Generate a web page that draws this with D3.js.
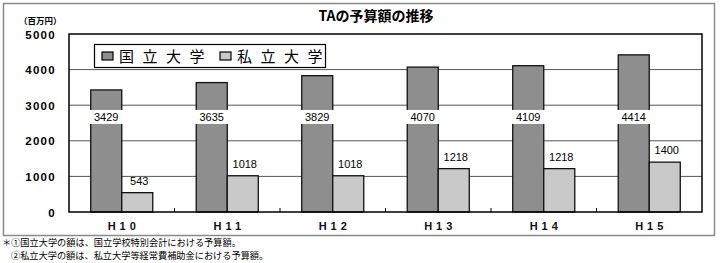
<!DOCTYPE html>
<html><head><meta charset="utf-8">
<script src="https://cdn.jsdelivr.net/npm/d3@7"></script>
<style>body{margin:0;background:#fff}svg{display:block}</style>
</head><body>
<svg id="c" width="720" height="263"></svg>
<script>
const categories = ["H10","H11","H12","H13","H14","H15"];
const seriesNames = ["国立大学","私立大学"];
const national = [3429,3635,3829,4070,4109,4414];
const privateU = [543,1018,1018,1218,1218,1400];
const yTicks = [0,1000,2000,3000,4000,5000];
const title = "TAの予算額の推移";
const unitLabel = "（百万円）";
const notes = ["＊①国立大学の額は、国立学校特別会計における予算額。","②私立大学の額は、私立大学等経常費補助金における予算額。"];

const svg = d3.select("#c");
const M = {l:69, r:702, t:34, b:212};
const jp = "'Noto Sans CJK JP', sans-serif";
const lat = "Arial, 'Liberation Sans', sans-serif";

// outer frame
svg.append("rect").attr("x",3.5).attr("y",3.5).attr("width",711).attr("height",232)
  .attr("fill","#fff").attr("stroke","#8a8a8a").attr("stroke-width",1.5);

const x = d3.scaleBand().domain(categories).range([M.l,M.r]).paddingInner(0.412).paddingOuter(0.206);
const xs = d3.scaleBand().domain(seriesNames).range([0,x.bandwidth()]);
const y = d3.scaleLinear().domain([0,5000]).range([M.b,M.t]);

// gridlines
svg.append("g").selectAll("line").data(yTicks.filter(d=>d>0&&d<5000)).join("line")
  .attr("x1",M.l).attr("x2",M.r).attr("y1",d=>y(d)).attr("y2",d=>y(d))
  .attr("stroke","#555").attr("stroke-width",1);

// bars
const data = categories.map((c,i)=>({c, vals:[{s:seriesNames[0],v:national[i]},{s:seriesNames[1],v:privateU[i]}]}));
const colors = {"国立大学":"#8e8e8e","私立大学":"#c9c9c9"};
const g = svg.append("g");
const grp = g.selectAll("g").data(data).join("g").attr("transform",d=>`translate(${x(d.c)},0)`);
grp.selectAll("rect").data(d=>d.vals).join("rect")
  .attr("x",d=>xs(d.s)).attr("width",xs.bandwidth())
  .attr("y",d=>y(d.v)).attr("height",d=>y(0)-y(d.v))
  .attr("fill",d=>colors[d.s]).attr("stroke","#111").attr("stroke-width",1.3);

// dark bar labels (fixed row with white background)
const labelV = 2670;
grp.append("rect").attr("x",xs(seriesNames[0])-2).attr("width",xs.bandwidth()+4)
  .attr("y",y(labelV)-7).attr("height",14).attr("fill","#fff");
grp.append("text").attr("x",xs(seriesNames[0])+xs.bandwidth()/2).attr("y",y(labelV)+4)
  .attr("text-anchor","middle").attr("font-family",lat).attr("font-size",11)
  .attr("fill","#000").text((d,i)=>d.vals[0].v);
// light bar labels
grp.append("text").attr("x",xs(seriesNames[1])+xs.bandwidth()/2+2).attr("y",d=>y(d.vals[1].v)-8)
  .attr("text-anchor","middle").attr("font-family",lat).attr("font-size",11)
  .attr("fill","#000").text(d=>d.vals[1].v);

// plot border
svg.append("rect").attr("x",M.l).attr("y",M.t).attr("width",M.r-M.l).attr("height",M.b-M.t)
  .attr("fill","none").attr("stroke","#000").attr("stroke-width",1.5);

// category boundary ticks (inside)
svg.append("g").selectAll("line").data(categories.slice(1)).join("line")
  .attr("x1",d=>x(d)-x.step()*x.paddingInner()/2).attr("x2",d=>x(d)-x.step()*x.paddingInner()/2)
  .attr("y1",M.b).attr("y2",M.b-4).attr("stroke","#000").attr("stroke-width",1);

// y labels
svg.append("g").selectAll("text").data(yTicks).join("text")
  .attr("x",56).attr("y",d=>y(d)+4.5).attr("text-anchor","end")
  .attr("font-family",lat).attr("font-weight","bold").attr("font-size",11.5)
  .attr("letter-spacing","1.3px").attr("fill","#000").text(d=>d);

// x labels
svg.append("g").selectAll("text").data(categories).join("text")
  .attr("x",d=>x(d)+x.bandwidth()/2+2).attr("y",230).attr("text-anchor","middle")
  .attr("font-family",lat).attr("font-weight","bold").attr("font-size",11)
  .attr("letter-spacing","4px").attr("fill","#111").text(d=>d);

// title
svg.append("text").attr("x",376).attr("y",21).attr("text-anchor","middle")
  .attr("font-family",jp).attr("font-weight","bold").attr("font-size",14).attr("fill","#000").text(title);
svg.append("text").attr("x",19).attr("y",24).attr("font-family",jp).attr("font-weight","bold")
  .attr("font-size",8.5).attr("fill","#000").text(unitLabel);

// legend
const lg = svg.append("g");
lg.append("rect").attr("x",94.5).attr("y",44.5).attr("width",231).attr("height",23)
  .attr("fill","#fff").attr("stroke","#000").attr("stroke-width",1.2);
const legX = [102,220];
seriesNames.forEach((s,i)=>{
  lg.append("rect").attr("x",legX[i]).attr("y",52).attr("width",11).attr("height",8)
    .attr("fill",colors[s]).attr("stroke","#000").attr("stroke-width",1.2);
  lg.append("text").attr("x",legX[i]+17).attr("y",61.5).attr("font-family",jp)
    .attr("font-size",15).attr("letter-spacing","8.5px").attr("fill","#000").text(s);
});

// notes
svg.append("text").attr("x",2).attr("y",246).attr("font-family",jp).attr("font-size",9.2).attr("fill","#000").text(notes[0]);
svg.append("text").attr("x",11).attr("y",259).attr("font-family",jp).attr("font-size",9.2).attr("fill","#000").text(notes[1]);
</script>
</body></html>
